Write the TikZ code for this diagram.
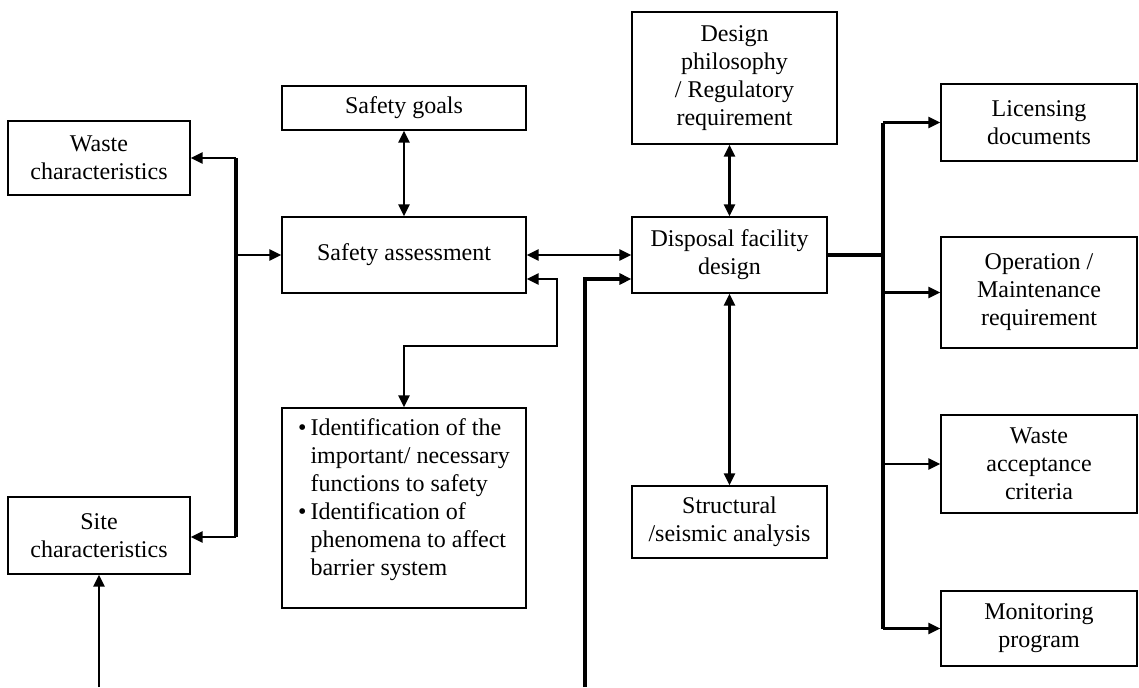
\documentclass[tikz,border=0pt]{standalone}
\usepackage{fontspec}
\setmainfont{Liberation Serif}
\usetikzlibrary{arrows.meta}
\begin{document}
\begin{tikzpicture}[x=0.5pt,y=-0.5pt,
  box/.style={draw, line width=0.6pt, align=center, inner sep=0pt,
    font=\fontsize{12}{14}\selectfont},
  link/.style={line width=1.25pt, -{Triangle[length=6pt,width=5.5pt]}},
  both/.style={line width=1.25pt,
    {Triangle[length=6pt,width=5.5pt]}-{Triangle[length=6pt,width=5.5pt]}},
  bus/.style={line width=1.6pt},
  feed/.style={line width=1.7pt, -{Triangle[length=6pt,width=5.5pt]}}]
\useasboundingbox (0,0) rectangle (1139,687);

% boxes
\node[box, minimum width=91pt, minimum height=37pt] (waste) at (99,158) {Waste\\characteristics};
\node[box, minimum width=91pt, minimum height=38.5pt] (site) at (99,535.5) {Site\\characteristics};
\node[box, minimum width=122pt, minimum height=22pt] (goals) at (404,108) {Safety goals};
\node[box, minimum width=122pt, minimum height=38pt] (assess) at (404,255) {Safety assessment};
\node[box, minimum width=122pt, minimum height=100pt] (functions) at (404,508)
  {\begin{tabular}{@{}l@{\hspace{2pt}}l@{}}
   \textbullet & Identification of the\\
               & important/ necessary\\
               & functions to safety\\
   \textbullet & Identification of\\
               & phenomena to affect\\
               & barrier system\\[8pt]
   \end{tabular}};
\node[box, minimum width=102.5pt, minimum height=66pt] (design) at (734.5,78)
  {Design\\philosophy\\/ Regulatory\\requirement};
\node[box, minimum width=97.5pt, minimum height=38pt] (disposal) at (729.5,255) {Disposal facility\\design};
\node[box, minimum width=97.5pt, minimum height=36pt] (struct) at (729.5,522) {Structural\\/seismic analysis};
\node[box, minimum width=98pt, minimum height=38.5pt] (licence) at (1039,122.5) {Licensing\\documents};
\node[box, minimum width=98pt, minimum height=55.5pt] (operation) at (1039,292.5) {Operation /\\Maintenance\\requirement};
\node[box, minimum width=98pt, minimum height=49pt] (wac) at (1039,464) {Waste\\acceptance\\criteria};
\node[box, minimum width=98pt, minimum height=37.5pt] (monitor) at (1039,628.5) {Monitoring\\program};

% left distribution line
\coordinate (wj) at (236,158);
\coordinate (aj) at (236,255);
\coordinate (sj) at (236,537);
\draw[bus] (wj) -- (sj);
\draw[link] (wj) -- (waste.east);
\draw[link] (sj) -- (site.east |- sj);
\draw[link] (aj) -- (assess.west);
\coordinate (sitefeed) at (99,687);
\draw[link] (sitefeed) -- (site.south);

% safety assessment links
\draw[both] (goals.south) -- (assess.north);
\draw[both] (assess.east) -- (disposal.west);
\coordinate (fb1) at (557,279);
\coordinate (fb2) at (557,346);
\coordinate (fb3) at (404,346);
\draw[both] (assess.east |- fb1) -- (fb1) -- (fb2) -- (fb3) -- (functions.north);

% external input to the facility design
\coordinate (ext) at (585,687);
\draw[feed] (ext) -- (ext |- fb1) -- (disposal.west |- fb1);

% facility design links
\draw[both] (disposal.north) -- (design.south -| disposal.north);
\draw[both] (disposal.south) -- (struct.north);

% right distribution line
\coordinate (rj) at (883,255);
\draw[bus] (disposal.east) -- (rj);
\draw[bus] (rj |- licence) -- (rj |- monitor);
\draw[link] (rj |- licence) -- (licence.west);
\draw[link] (rj |- operation) -- (operation.west);
\draw[link] (rj |- wac) -- (wac.west);
\draw[link] (rj |- monitor) -- (monitor.west);
\end{tikzpicture}
\end{document}
